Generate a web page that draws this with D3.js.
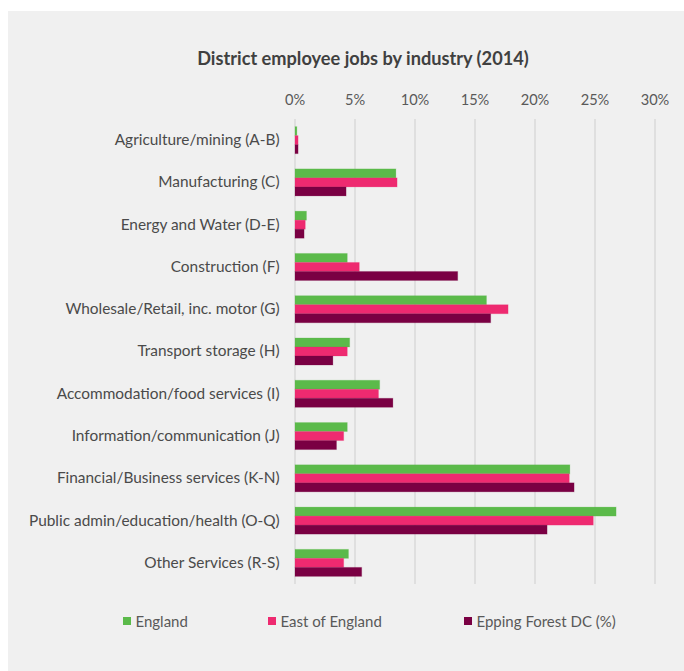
<!DOCTYPE html>
<html>
<head>
<meta charset="utf-8">
<script src="https://cdn.jsdelivr.net/npm/d3@7"></script>
<style>
  html, body { margin: 0; padding: 0; background: #ffffff; }
  svg { display: block; }
  text { font-family: Lato, "Open Sans", sans-serif; }
</style>
</head>
<body>
<svg id="chart" width="684" height="671"></svg>
<script>
// Industry categories, top to bottom
const categories = [
  "Agriculture/mining (A-B)",
  "Manufacturing (C)",
  "Energy and Water (D-E)",
  "Construction (F)",
  "Wholesale/Retail, inc. motor (G)",
  "Transport storage (H)",
  "Accommodation/food services (I)",
  "Information/communication (J)",
  "Financial/Business services (K-N)",
  "Public admin/education/health (O-Q)",
  "Other Services (R-S)"
];

// Share of employee jobs (%) per area
const england       = [0.2, 8.45, 1.0, 4.4, 16.0, 4.6, 7.1, 4.4, 22.95, 26.8, 4.5];
const eastOfEngland = [0.3, 8.55, 0.9, 5.4, 17.8, 4.4, 7.0, 4.1, 22.9, 24.9, 4.1];
const eppingForest  = [0.3, 4.3, 0.8, 13.6, 16.35, 3.2, 8.2, 3.5, 23.3, 21.05, 5.6];

const seriesNames = ["England", "East of England", "Epping Forest DC (%)"];
const seriesColors = ["#5bba4a", "#ee2a70", "#7a0043"];
const tickValues = [0, 5, 10, 15, 20, 25, 30];

const chartTitle = "District employee jobs by industry (2014)";

const series = [england, eastOfEngland, eppingForest];

const svg = d3.select("#chart");
const W = 684, H = 671;

// panel background
svg.append("rect").attr("x", 0).attr("y", 0).attr("width", W).attr("height", H).attr("fill", "#ffffff");
svg.append("rect").attr("x", 8).attr("y", 11).attr("width", W - 8).attr("height", H - 11).attr("fill", "#f0f0f0");

const plot = { left: 294.5, right: 654.5, top: 119, bottom: 584 };

const x = d3.scaleLinear().domain([0, 30]).range([plot.left, plot.right]);
const y = d3.scaleBand().domain(categories).range([plot.top, plot.bottom])
  .paddingInner(0.36).paddingOuter(0.18);
const ySub = d3.scaleBand().domain(d3.range(series.length)).range([0, y.bandwidth()]);

// title
svg.append("text")
  .attr("x", 363).attr("y", 64.5)
  .attr("text-anchor", "middle")
  .attr("font-size", 18.2).attr("font-weight", 700)
  .attr("fill", "#404040")
  .text(chartTitle);

// top axis with gridlines
const xAxis = d3.axisTop(x)
  .tickValues(tickValues)
  .tickFormat(d => d + "%")
  .tickSize(-(plot.bottom - plot.top))
  .tickPadding(14);

const gx = svg.append("g").attr("transform", `translate(0,${plot.top})`).call(xAxis);
gx.select(".domain").remove();
gx.selectAll(".tick line").attr("stroke", "#d4d4d4").attr("stroke-width", 1.2);
gx.selectAll(".tick text").attr("fill", "#595959").attr("font-size", 14.6)
  .style("font-family", "Lato, 'Open Sans', sans-serif");

// category axis
const yAxis = d3.axisLeft(y).tickSize(0).tickPadding(15);
const gy = svg.append("g").attr("transform", `translate(${plot.left},0)`).call(yAxis);
gy.select(".domain").remove();
gy.selectAll(".tick text").attr("fill", "#4a4a4a").attr("font-size", 15.4)
  .style("font-family", "Lato, 'Open Sans', sans-serif");

// bars
const groups = svg.append("g").selectAll("g")
  .data(categories)
  .join("g")
  .attr("transform", d => `translate(0,${y(d)})`);

groups.selectAll("rect")
  .data((d, i) => series.map((s, k) => ({ k, v: s[i] })))
  .join("rect")
  .attr("x", x(0) + 0.5)
  .attr("y", d => ySub(d.k))
  .attr("width", d => x(d.v) - x(0) - 0.5)
  .attr("height", ySub.bandwidth())
  .attr("fill", d => seriesColors[d.k])
  .attr("stroke", d => seriesColors[d.k])
  .attr("stroke-opacity", 0.2)
  .attr("stroke-width", 1);

// legend
const legendX = [123, 268, 464];
const legend = svg.append("g").selectAll("g")
  .data(seriesNames)
  .join("g")
  .attr("transform", (d, i) => `translate(${legendX[i]},621)`);

legend.append("rect")
  .attr("x", 0).attr("y", -4).attr("width", 8).attr("height", 8)
  .attr("fill", (d, i) => seriesColors[i]);

legend.append("text")
  .attr("x", 12.5).attr("y", 5.5)
  .attr("font-size", 15)
  .attr("fill", "#595959")
  .text(d => d);
</script>
</body>
</html>
